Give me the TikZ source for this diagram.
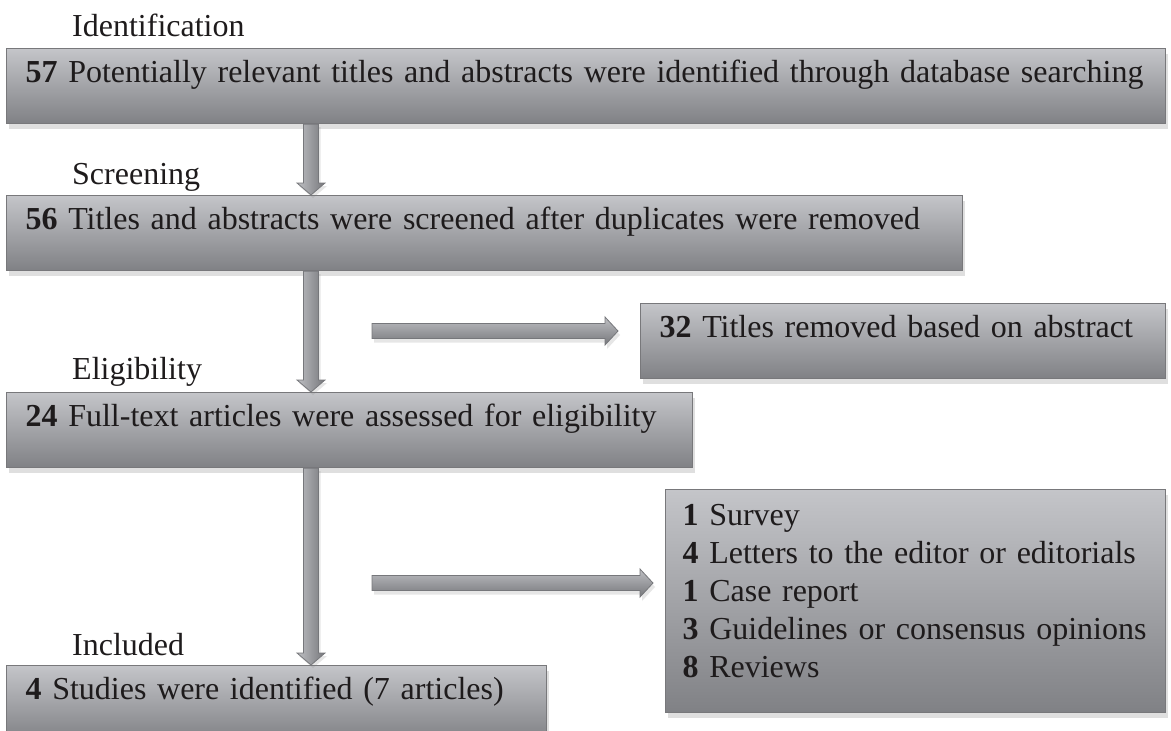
\documentclass[tikz,border=0pt]{standalone}
\usepackage{fontspec}
\setmainfont{Liberation Serif}
\usetikzlibrary{positioning,calc,shadows}
\definecolor{stagetop}{RGB}{196,197,201}
\definecolor{stagebottom}{RGB}{128,129,133}
\definecolor{stageedge}{RGB}{120,120,123}
\definecolor{flowlight}{RGB}{190,191,195}
\definecolor{flowdark}{RGB}{118,119,123}
\definecolor{inktext}{RGB}{30,27,28}
\tikzset{
    % Stage boxes
    stagebox/.style={
        rectangle, draw=stageedge, line width=1.2pt,
        top color=stagetop, bottom color=stagebottom,
        anchor=north west, align=left, text=inktext,
        inner xsep=19pt, inner ysep=0pt,
        text height=34pt, text depth=41pt,
        font=\fontsize{32}{38}\selectfont,
        drop shadow={shadow xshift=2pt, shadow yshift=-5pt, opacity=0.25}
    },
    phase/.style={
        anchor=west, inner sep=0pt, text=inktext,
        font=\fontsize{32}{38}\selectfont
    },
    % Block arrows
    vflowfill/.style={
        left color=flowlight, right color=flowdark,
        draw=flowdark, line width=0.8pt,
        drop shadow={shadow xshift=2pt, shadow yshift=-3pt, opacity=0.2}
    },
    hflowfill/.style={
        top color=flowlight, bottom color=flowdark,
        draw=flowdark, line width=0.8pt,
        drop shadow={shadow xshift=2pt, shadow yshift=-4pt, opacity=0.2}
    }
}
\newcommand{\vflow}[2]{%
  \path[vflowfill] let \p1=(#1), \p2=(#2) in
    (\x1-7.5pt,\y1) -- (\x1+7.5pt,\y1) -- (\x1+7.5pt,\y2+12pt) -- (\x1+14pt,\y2+12pt)
    -- (\x1,\y2) -- (\x1-14pt,\y2+12pt) -- (\x1-7.5pt,\y2+12pt) -- cycle;}
\newcommand{\hflow}[2]{%
  \path[hflowfill] let \p1=(#1), \p2=(#2) in
    (\x1,\y1+7.5pt) -- (\x2-13pt,\y1+7.5pt) -- (\x2-13pt,\y1+14pt) -- (\x2,\y1)
    -- (\x2-13pt,\y1-14pt) -- (\x2-13pt,\y1-7.5pt) -- (\x1,\y1-7.5pt) -- cycle;}

\begin{document}
\begin{tikzpicture}[x=1pt, y=1pt]
\useasboundingbox (0,0) rectangle (1171,-731);

% Stages of the review
\node[stagebox, text width=1121pt] (ident) at (6,-48) {\textbf{57} Potentially relevant titles and abstracts were identified through database searching};
\node[stagebox, text width=918pt] (screen) at (6,-195) {\textbf{56} Titles and abstracts were screened after duplicates were removed};
\node[stagebox, text width=487pt] (removed) at (640,-303) {\textbf{32} Titles removed based on abstract};
\node[stagebox, text width=648pt] (elig) at (6,-392) {\textbf{24} Full-text articles were assessed for eligibility};
\node[stagebox, inner xsep=17pt, text width=466pt, text height=36pt, text depth=187pt] (excluded) at (665,-489) {\textbf{1} Survey\\
\textbf{4} Letters to the editor or editorials\\
\textbf{1} Case report\\
\textbf{3} Guidelines or consensus opinions\\
\textbf{8} Reviews};
\node[stagebox, text width=502pt] (incl) at (6,-665) {\textbf{4} Studies were identified (7 articles)};

% Phase labels
\node[phase] (lblident) at (72,-25) {Identification};
\node[phase] (lblscreen) at (72,-177) {Screening};
\node[phase] (lblelig) at (72,-372) {Eligibility};
\node[phase] (lblincl) at (72,-645) {Included};

% Main flow down the left
\coordinate (spine) at (311,0);
\vflow{ident.south -| spine}{screen.north -| spine}
\vflow{screen.south -| spine}{elig.north -| spine}
\vflow{elig.south -| spine}{incl.north -| spine}

% Exclusions to the right
\coordinate (out1) at (372,-331);
\coordinate (out2) at (372,-583);
\hflow{out1}{$(removed.west |- out1)+(-22,0)$}
\hflow{out2}{$(excluded.west |- out2)+(-12,0)$}

\end{tikzpicture}
\end{document}
